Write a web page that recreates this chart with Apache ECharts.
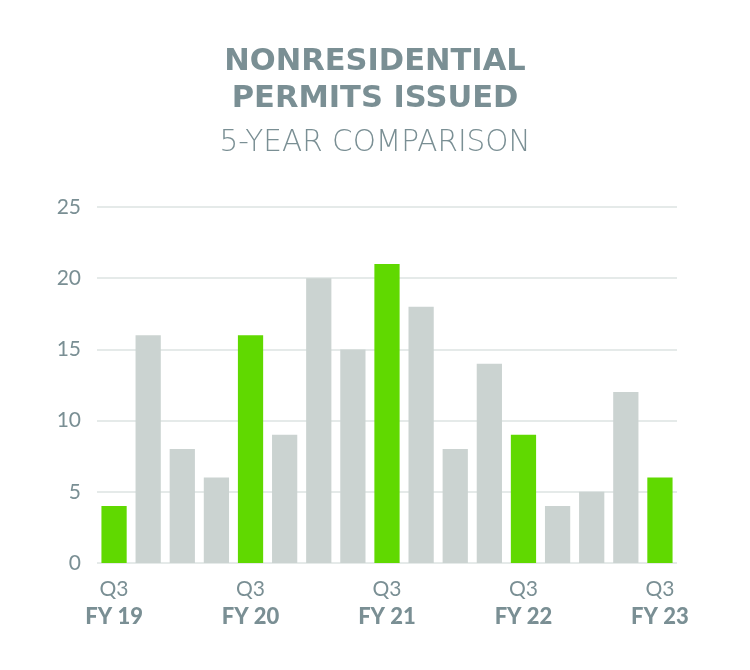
<!DOCTYPE html>
<html>
<head>
<meta charset="utf-8">
<script src="https://cdn.jsdelivr.net/npm/echarts@6/dist/echarts.min.js"></script>
<style>html,body{margin:0;padding:0;background:#fff}#chart{width:750px;height:670px}</style>
</head>
<body>
<div id="chart"></div>
<script>
const categories = ['Q3 FY 19','Q4 FY 19','Q1 FY 20','Q2 FY 20','Q3 FY 20','Q4 FY 20','Q1 FY 21','Q2 FY 21','Q3 FY 21','Q4 FY 21','Q1 FY 22','Q2 FY 22','Q3 FY 22','Q4 FY 22','Q1 FY 23','Q2 FY 23','Q3 FY 23'];
const permits = [4,16,8,6,16,9,20,15,21,18,8,14,9,4,5,12,6];
const highlightQuarter = 'Q3';
const yTicks = [0,5,10,15,20,25];

const GREEN = '#60d900', GRAY = '#cbd3d1', TEXT = '#7a8f94';
const chart = echarts.init(document.getElementById('chart'));
chart.setOption({
  animation: false,
  title: [
    { text: 'NONRESIDENTIAL\nPERMITS ISSUED', left: 'center', top: 39,
      textStyle: { fontFamily: 'DejaVu Sans', fontWeight: 'bold', fontSize: 30.5, color: TEXT, lineHeight: 37 } },
    { text: '5-YEAR COMPARISON', left: 'center', top: 123,
      textStyle: { fontFamily: 'DejaVu Sans', fontWeight: 200, fontSize: 29.5, color: TEXT } }
  ],
  grid: { left: 97, right: 73, top: 207, bottom: 107 },
  xAxis: {
    type: 'category', data: categories,
    axisLine: { show: false }, axisTick: { show: false },
    axisLabel: {
      interval: 0, margin: 12,
      formatter: function (v) {
        const parts = v.split(' ');
        if (parts[0] !== highlightQuarter) return '';
        return '{q|' + parts[0] + '}\n{fy|' + parts.slice(1).join(' ') + '}';
      },
      rich: {
        q: { fontFamily: 'Lato', fontWeight: 400, fontSize: 21, color: TEXT, lineHeight: 28 },
        fy: { fontFamily: 'Lato', fontWeight: 900, fontSize: 22, color: TEXT, lineHeight: 28 }
      }
    }
  },
  yAxis: {
    type: 'value', min: yTicks[0], max: yTicks[yTicks.length-1], interval: yTicks[1]-yTicks[0],
    axisLabel: { fontFamily: 'Lato', fontWeight: 400, fontSize: 21, color: TEXT, margin: 16 },
    splitLine: { lineStyle: { color: '#dde3e2', width: 1.5 } },
    axisLine: { show: false }, axisTick: { show: false }
  },
  series: [{
    type: 'bar', barCategoryGap: '26%',
    data: permits.map((v, i) => ({ value: v, itemStyle: { color: categories[i].startsWith(highlightQuarter) ? GREEN : GRAY } }))
  }]
});
</script>
</body>
</html>
